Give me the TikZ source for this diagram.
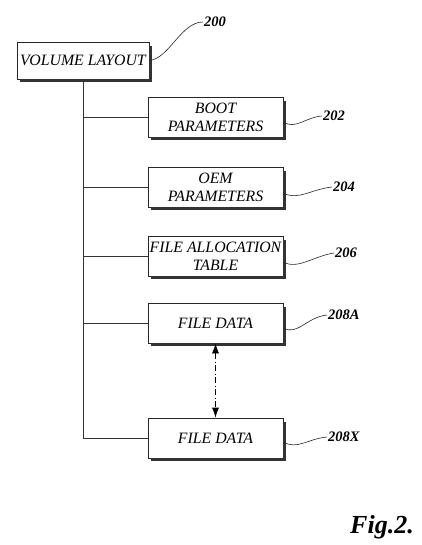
\documentclass[tikz,border=0pt]{standalone}
\usepackage{fontspec}
\setmainfont{Liberation Serif}
\usetikzlibrary{arrows.meta}
\begin{document}
\begin{tikzpicture}[x=1pt,y=-1pt,
  patbox/.style={draw=black!85, line width=0.7pt, minimum width=135pt, minimum height=40pt,
    align=center, inner sep=1pt, font=\fontsize{15.8}{18}\selectfont\itshape},
  shadowline/.style={draw=black!80, line width=2.4pt, line cap=butt, line join=miter},
  trunk/.style={draw=black!80, line width=0.7pt},
  leader/.style={draw=black!85, line width=0.6pt},
  reflabel/.style={anchor=west, inner sep=1pt, font=\fontsize{14.5}{16}\selectfont\bfseries\itshape},
  dashpat/.style={draw=black, line width=0.7pt, dash pattern=on 6pt off 2.5pt on 1pt off 2.5pt,
    {Latex[length=10pt,width=7pt]}-{Latex[length=10pt,width=7pt]}}
]
\useasboundingbox (0,0) rectangle (421,545);

\node[patbox, minimum width=132pt, minimum height=37pt] (vl) at (83,60.5) {VOLUME LAYOUT};
\node[patbox] (boot) at (215.5,117) {BOOT\\PARAMETERS};
\node[patbox] (oem) at (215.5,187) {OEM\\PARAMETERS};
\node[patbox] (fat) at (215.5,256) {FILE ALLOCATION\\TABLE};
\node[patbox] (fda) at (215.5,323) {FILE DATA};
\node[patbox] (fdx) at (215.5,438) {FILE DATA};

\foreach \n in {vl,boot,oem,fat,fda,fdx}
  \draw[shadowline] ([shift={(1.2pt,-4pt)}]\n.north east) -- ([shift={(1.2pt,-1.2pt)}]\n.south east) -- ([shift={(3pt,-1.2pt)}]\n.south west);

% trunk and branches
\draw[trunk] (vl.south) |- (fdx.west);
\foreach \n in {boot,oem,fat,fda}
  \draw[trunk] (vl.south |- \n.west) -- (\n.west);

% dashed double arrow
\draw[dashpat] (fda.south) -- (fdx.north);

% reference labels
\node[reflabel] (l200) at (203,22) {200};
\node[reflabel] (l202) at (322,116) {202};
\node[reflabel] (l204) at (332,187) {204};
\node[reflabel] (l206) at (334,253) {206};
\node[reflabel] (l208a) at (327,315) {208A};
\node[reflabel] (l208x) at (327,437) {208X};

% leaders
\draw[leader] (vl.east) .. controls +(20pt,2pt) and +(-22pt,0pt) .. (l200.west);
\draw[leader] ([yshift=-5pt]boot.east) .. controls +(12pt,-8pt) and +(-16pt,-1pt) .. (l202.west);
\draw[leader] ([yshift=-6pt]oem.east) .. controls +(14pt,-8pt) and +(-20pt,-2pt) .. (l204.west);
\draw[leader] ([yshift=-6pt]fat.east) .. controls +(14pt,-8pt) and +(-20pt,-3pt) .. (l206.west);
\draw[leader] ([yshift=-5pt]fda.east) .. controls +(14pt,-8pt) and +(-20pt,-2pt) .. (l208a.west);
\draw[leader] ([yshift=-4pt]fdx.east) .. controls +(14pt,-8pt) and +(-20pt,-2pt) .. (l208x.west);

\node[font=\fontsize{26}{28}\selectfont\bfseries\itshape] (fig) at (382,527) {Fig.2.};
\end{tikzpicture}
\end{document}
